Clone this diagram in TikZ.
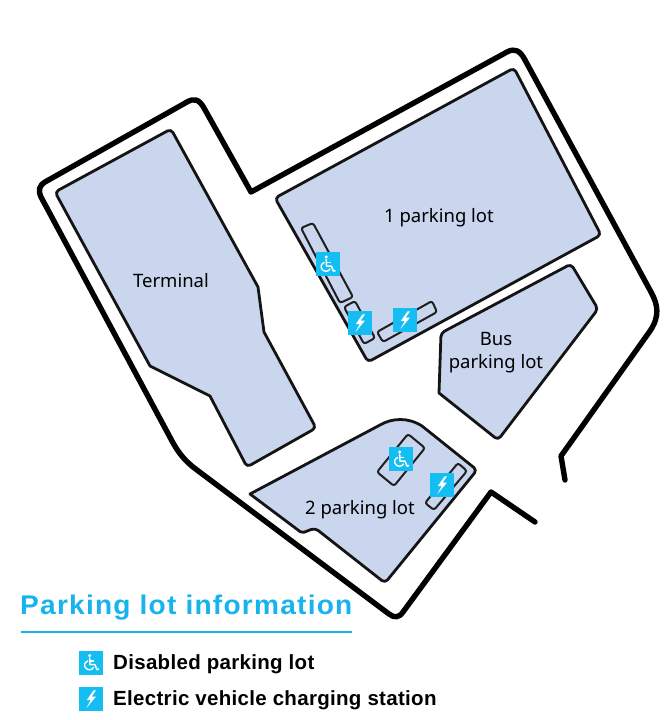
\documentclass[tikz,border=0pt]{standalone}
\usepackage{fontspec}
\setmainfont{Noto Sans}
\newfontfamily\headfont[LetterSpace=4.6,FakeStretch=1.04]{Liberation Sans Bold}
\newfontfamily\legfont[LetterSpace=1.5]{Liberation Sans Bold}
\definecolor{lotfill}{HTML}{C9D6EE}
\definecolor{iconblue}{HTML}{14BDF2}
\definecolor{titleblue}{HTML}{17B3EC}
\tikzset{
  road/.style={line width=5.4pt,line join=round,line cap=round,draw=black},
  lot/.style={line width=2.8pt,draw=black!92,fill=lotfill,line join=round,rounded corners=4pt},
  stall/.style={line width=2pt,draw=black!88,fill=lotfill,line join=round,rounded corners=2.5pt},
  maplabel/.style={font=\fontsize{18.5}{23}\selectfont,text=black,inner sep=0pt,align=center},
  legendtext/.style={font=\fontsize{20.5}{22}\legfont,text=black,inner sep=0pt,anchor=west},
  icon/.style={fill=iconblue,draw=none,minimum size=24pt,inner sep=0pt,rectangle},
  wheel/.pic={
    \node[icon] (-box) at (0,0) {};
    \fill[white] (-1.3,-7) circle (1.7);
    \draw[white,line width=1.5pt,line cap=round,line join=round] (-1.3,-4.5) -- (-1,2.2) -- (4,2.2) -- (6,7.2) -- (7.6,6.6);
    \draw[white,line width=1.3pt] (-1.2,-1.4) -- (3.2,-1.4);
    \draw[white,line width=1.4pt] (-3,-1.6) .. controls (-6.5,-0.6) and (-7.6,3.2) .. (-5,5.8) .. controls (-3,7.9) and (1,7.9) .. (2.6,4.8);
  },
  bolt/.pic={
    \node[icon] (-box) at (0,0) {};
    \fill[white] (2.5,-8.6) -- (-4.3,1.2) -- (-0.4,1.2) -- (-4.7,9.2) -- (4.9,-2.3) -- (0.6,-2.3) -- (5,-8.6) -- cycle;
  }
}
\begin{document}
\begin{tikzpicture}[x=1pt,y=-1pt]
\useasboundingbox (0,0) rectangle (665,720);
% road outline
\draw[road] (565,480) -- (561,456) -- (650,331)
  .. controls (660,316) and (658,305) .. (651,292)
  -- (525,60) .. controls (520,50) and (514,48) .. (507,52)
  -- (251,192) -- (204,108) .. controls (199,99) and (194,98) .. (187,102)
  -- (45,182) .. controls (39,186) and (38,190) .. (41,197)
  -- (172,441) .. controls (179,454) and (186,462) .. (197,470)
  -- (389,614) .. controls (394,618) and (399,618) .. (403,612)
  -- (491,492) -- (535,522);
% lots
\path[lot] (171,129) -- (55,192) [sharp corners] -- (150,366) -- (210,396) [rounded corners=4pt] -- (247,467) -- (316,428) [sharp corners] -- (264,332) -- (258,287) [rounded corners=4pt] -- cycle;
\path[lot] (514,68) -- (275,198) -- (368,362) -- (601,235) -- cycle;
\path[lot] (571,264) -- (441,333) [sharp corners] -- (439,393) [rounded corners=4pt] -- (498,440) -- (598,309) -- cycle;
\path[lot] [sharp corners] (250,494) -- (380,425) .. controls (392,418) and (408,417) .. (422,426) [rounded corners=4pt] -- (477,470) -- (385,583) -- (315,528) [rounded corners=2pt] -- (302,533) [sharp corners] -- cycle;
% stalls
\path[stall] (301,228) -- (313,223) -- (353,297) -- (340,303) -- cycle;
\path[stall] (344,307) -- (355,301) -- (375,338) -- (364,344) -- cycle;
\path[stall] (377,332) -- (432,301) -- (437,312) -- (383,342) -- cycle;
\path[stall] (408,434) -- (425,448) -- (394,486) -- (377,472) -- cycle;
\path[stall] (458,463) -- (467,471) -- (434,510) -- (425,503) -- cycle;
% icons
\pic (w1) at (327.5,264) {wheel};
\pic (b1) at (360,323) {bolt};
\pic (b2) at (405,320) {bolt};
\pic (w2) at (401,459) {wheel};
\pic (b3) at (442,485) {bolt};
\pic (w3) at (91,662.5) {wheel};
\pic (b4) at (91,699) {bolt};
% labels
\node[maplabel] (lotone) at (439,218) {1 parking lot};
\node[maplabel] (terminal) at (171,281) {Terminal};
\node[maplabel] (bus) at (496,353) {Bus\\parking lot};
\node[maplabel] (lottwo) at (360,510) {2 parking lot};
% legend
\node[inner sep=0pt,anchor=west,text=titleblue,font=\fontsize{27}{32}\headfont] (title) at (20,608) {Parking lot information};
\coordinate (ruleL) at (21,632);
\coordinate (ruleR) at (352,632);
\draw[titleblue,line width=1.3pt] (ruleL) -- (ruleR);
\node[legendtext] (leg1) at (113,664) {Disabled parking lot};
\node[legendtext] (leg2) at (113,700) {Electric vehicle charging station};
\end{tikzpicture}
\end{document}
